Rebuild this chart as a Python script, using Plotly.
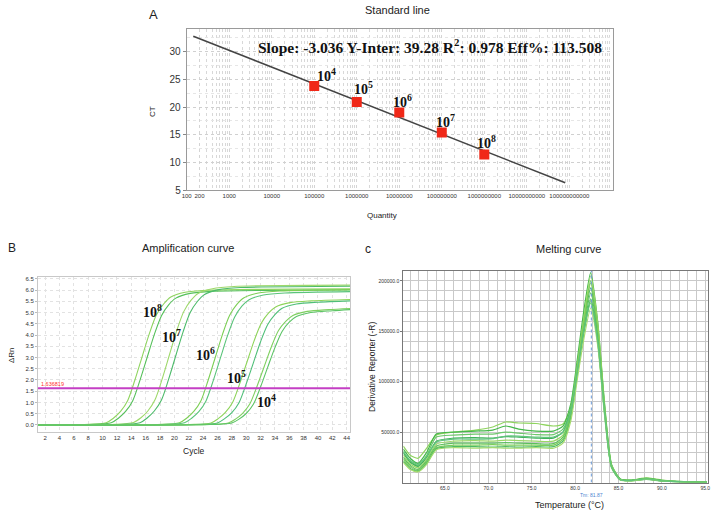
import math
import plotly.graph_objects as go

# ---------------- Panel A: standard line ----------------
std_quantity = [1e5, 1e6, 1e7, 1e8, 1e9]
std_ct = [23.8, 20.9, 19.0, 15.4, 11.4]
std_labels = ["10<sup>4</sup>", "10<sup>5</sup>", "10<sup>6</sup>", "10<sup>7</sup>", "10<sup>8</sup>"]
fit_quantity = [143, 8e10]
fit_ct = [32.8, 6.3]
qty_tickvals = [100, 200, 1e3, 1e4, 1e5, 1e6, 1e7, 1e8, 1e9, 1e10, 1e11]
qty_ticktext = ["100", "200", "1000", "10000", "100000", "1000000", "10000000",
                "100000000", "1000000000", "10000000000", "100000000000"]
ct_ticks = [5, 10, 15, 20, 25, 30]
stats_text = "Slope: -3.036 Y-Inter: 39.28 R<sup>2</sup>: 0.978 Eff%: 113.508"

# ---------------- Panel B: amplification curves ----------------
amp_x = [
    [1, 7.5, 10.5, 11.5, 12.5, 13.5, 14.5, 15.5, 16.5, 17.5, 18.5, 19.5, 21.5, 24.5, 44.5],
    [1, 8.2, 11.2, 12.2, 13.2, 14.2, 15.2, 16.2, 17.2, 18.2, 19.2, 20.2, 22.2, 25.2, 44.5],
    [1, 11.3, 14.3, 15.3, 16.3, 17.3, 18.3, 19.3, 20.3, 21.3, 22.3, 23.3, 25.3, 28.3, 44.5],
    [1, 12.2, 15.2, 16.2, 17.2, 18.2, 19.2, 20.2, 21.2, 22.2, 23.2, 24.2, 26.2, 29.2, 44.5],
    [1, 17.7, 20.7, 21.7, 22.7, 23.7, 24.7, 25.7, 26.7, 27.7, 28.7, 29.7, 31.7, 34.7, 44.5],
    [1, 18.4, 21.4, 22.4, 23.4, 24.4, 25.4, 26.4, 27.4, 28.4, 29.4, 30.4, 32.4, 35.4, 44.5],
    [1, 22.1, 25.1, 26.1, 27.1, 28.1, 29.1, 30.1, 31.1, 32.1, 33.1, 34.1, 36.1, 39.1, 44.5],
    [1, 23.0, 26.0, 27.0, 28.0, 29.0, 30.0, 31.0, 32.0, 33.0, 34.0, 35.0, 37.0, 40.0, 44.5],
    [1, 24.5, 27.5, 28.5, 29.5, 30.5, 31.5, 32.5, 33.5, 34.5, 35.5, 36.5, 38.5, 41.5, 44.5],
    [1, 25.0, 28.0, 29.0, 30.0, 31.0, 32.0, 33.0, 34.0, 35.0, 36.0, 37.0, 39.0, 42.0, 44.5],
]
amp_y = [
    [0, 0.02, 0.10, 0.30, 0.60, 1.09, 2.00, 3.03, 4.05, 4.90, 5.38, 5.69, 5.90, 5.99, 6.05],
    [0, 0.02, 0.10, 0.30, 0.60, 1.08, 1.98, 3.00, 4.02, 4.86, 5.34, 5.64, 5.85, 5.94, 6.00],
    [0, 0.02, 0.11, 0.31, 0.62, 1.12, 2.05, 3.11, 4.17, 5.04, 5.54, 5.85, 6.06, 6.16, 6.22],
    [0, 0.02, 0.10, 0.31, 0.62, 1.11, 2.04, 3.09, 4.13, 5.00, 5.49, 5.80, 6.02, 6.11, 6.17],
    [0, 0.02, 0.10, 0.30, 0.60, 1.08, 1.99, 3.01, 4.03, 4.88, 5.36, 5.66, 5.87, 5.96, 6.02],
    [0, 0.02, 0.10, 0.30, 0.59, 1.07, 1.96, 2.97, 3.97, 4.80, 5.28, 5.57, 5.78, 5.87, 5.93],
    [0, 0.02, 0.09, 0.28, 0.56, 1.00, 1.84, 2.79, 3.74, 4.52, 4.97, 5.25, 5.44, 5.52, 5.58],
    [0, 0.02, 0.09, 0.28, 0.55, 0.99, 1.82, 2.76, 3.70, 4.47, 4.91, 5.19, 5.38, 5.46, 5.52],
    [0, 0.02, 0.09, 0.26, 0.52, 0.93, 1.71, 2.59, 3.47, 4.20, 4.61, 4.87, 5.05, 5.13, 5.18],
    [0, 0.02, 0.09, 0.26, 0.51, 0.92, 1.69, 2.57, 3.44, 4.16, 4.57, 4.82, 5.00, 5.08, 5.13],
]
amp_colors = ["#8fd45f", "#55c05a", "#9ed86a", "#4dbb6a", "#7ccf55", "#5ac47a",
              "#8ed45a", "#4fbf78", "#7fd060", "#5cc466"]
amp_labels = ["10<sup>8</sup>", "10<sup>7</sup>", "10<sup>6</sup>", "10<sup>5</sup>", "10<sup>4</sup>"]
amp_label_x = [17.0, 19.55, 24.4, 28.6, 32.8]
amp_label_y = [5.07, 3.96, 3.16, 2.13, 1.07]
threshold = 1.636819
cycle_ticks = list(range(2, 45, 2))
rn_ticks = [0.0, 0.5, 1.0, 1.5, 2.0, 2.5, 3.0, 3.5, 4.0, 4.5, 5.0, 5.5, 6.0, 6.5]

# ---------------- Panel C: melting curves ----------------
melt_t = [60.2, 61.0, 61.9, 62.9, 64.0, 66.0, 68.5, 70.5, 72.0, 73.5, 75.5, 77.5, 78.6,
          79.5, 80.3, 81.0, 81.8, 82.6, 83.4, 84.2, 85.2, 86.5, 88.2, 90.0, 92.5, 95.2]
melt_y = [
    [36000, 27000, 24000, 34000, 47000, 50000, 52000, 55000, 60000, 59000, 58500, 56000, 58000,
     75000, 115000, 150000, 180000, 140000, 70000, 17000, 3500, 2500, 4500, 2500, 900, 300],
    [33000, 24000, 19000, 30000, 48000, 50000, 51000, 52000, 56000, 53000, 51000, 51000, 56000,
     78000, 125000, 170000, 208000, 160000, 78000, 18000, 3500, 2300, 4000, 2200, 800, 300],
    [30000, 21000, 17000, 27000, 45000, 47000, 48000, 48000, 50000, 49000, 47500, 47500, 53000,
     75000, 120000, 163000, 200000, 155000, 75000, 17000, 3200, 2200, 4200, 2000, 700, 300],
    [29000, 20000, 16000, 25000, 41000, 44000, 44500, 44000, 45500, 45000, 44000, 44000, 50000,
     72000, 118000, 158000, 193000, 150000, 73000, 16000, 3000, 2000, 3800, 1800, 600, 200],
    [27000, 18500, 14500, 23000, 38000, 41000, 41500, 41000, 42000, 41500, 41000, 41000, 47000,
     70000, 118000, 162000, 205000, 158000, 76000, 17000, 3000, 2000, 3500, 1700, 600, 200],
    [25000, 17000, 13000, 21500, 36000, 39000, 39000, 39000, 39500, 39000, 38500, 38500, 45000,
     68000, 113000, 152000, 188000, 146000, 71000, 15500, 2800, 1900, 3300, 1600, 500, 200],
    [23000, 15500, 12000, 20000, 34500, 37000, 37000, 37500, 37000, 37000, 37000, 37000, 43000,
     67000, 115000, 158000, 198000, 152000, 74000, 16000, 2900, 1900, 3600, 1600, 500, 200],
    [21000, 14000, 11000, 19000, 33500, 35500, 35500, 35000, 35500, 35000, 35500, 35500, 41000,
     64000, 110000, 148000, 182000, 142000, 69000, 15000, 2700, 1800, 3000, 1500, 500, 200],
    [20000, 13000, 10500, 18000, 32500, 34500, 34000, 34500, 34000, 34000, 34500, 34000, 39000,
     61000, 105000, 142000, 173000, 136000, 66000, 14500, 2600, 1700, 3200, 1500, 500, 200],
    [31000, 22000, 18000, 26000, 40000, 43000, 43000, 43500, 46000, 46000, 45000, 45000, 50000,
     70000, 112000, 150000, 178000, 140000, 68000, 15000, 2800, 1900, 3600, 1700, 600, 200],
]
melt_colors = ["#8fd45f", "#45b84a", "#6cc86a", "#3fb25a", "#9bd866", "#5cc05c",
               "#7acd58", "#4dbb66", "#a6db6e", "#60c47c"]
temp_ticks = [65, 70, 75, 80, 85, 90, 95]
deriv_ticks = [50000, 100000, 150000, 200000]
tm_value = 81.87

W, H = 718, 511
def px(x): return x / W
def py(y): return 1 - y / H

fig = go.Figure()

# Panel A traces
fig.add_trace(go.Scatter(x=fit_quantity, y=fit_ct, mode="lines",
                         line=dict(color="#444444", width=1.5), xaxis="x", yaxis="y"))
fig.add_trace(go.Scatter(x=std_quantity, y=std_ct, mode="markers",
                         marker=dict(symbol="square", size=10, color="#f02818"),
                         xaxis="x", yaxis="y"))

# Panel B traces
for xs, ys, c in zip(amp_x, amp_y, amp_colors):
    fig.add_trace(go.Scatter(x=xs, y=ys, mode="lines",
                             line=dict(color=c, width=1.1, shape="spline", smoothing=0.8),
                             xaxis="x2", yaxis="y2"))
fig.add_trace(go.Scatter(x=[1, 44.46], y=[threshold, threshold], mode="lines",
                         line=dict(color="#c43fc4", width=2), xaxis="x2", yaxis="y2"))

# Panel C traces
for ys, c in zip(melt_y, melt_colors):
    fig.add_trace(go.Scatter(x=melt_t, y=ys, mode="lines",
                             line=dict(color=c, width=1.2, shape="spline", smoothing=0.6),
                             xaxis="x3", yaxis="y3"))
fig.add_trace(go.Scatter(x=[tm_value, tm_value], y=[0, 210000], mode="lines",
                         line=dict(color="#6a9ad8", width=1, dash="dot"), xaxis="x3", yaxis="y3"))

C = dict(xanchor="center", yanchor="middle", showarrow=False)
ann = []
for q, ct, lab, dx, dy in zip(std_quantity, std_ct, std_labels, [12, 7, 3, 4, 2], [11, 14, 12, 11, 13]):
    ann.append(dict(x=math.log10(q), y=ct, xref="x", yref="y", text="<b>" + lab + "</b>",
                    xshift=dx, yshift=dy, **C,
                    font=dict(family="Liberation Serif", size=14, color="#111")))
ann.append(dict(x=px(430), y=py(46), xref="paper", yref="paper", text="<b>" + stats_text + "</b>", **C,
                font=dict(family="Liberation Serif", size=15.5, color="#111")))
for x, y, lab in zip(amp_label_x, amp_label_y, amp_labels):
    ann.append(dict(x=x, y=y, xref="x2", yref="y2", text="<b>" + lab + "</b>", **C,
                    font=dict(family="Liberation Serif", size=14, color="#111")))
ann.append(dict(x=1.1, y=threshold, xref="x2", yref="y2", text=f"{threshold:.6f}", showarrow=False,
                xanchor="left", yanchor="bottom", yshift=-1,
                font=dict(family="Liberation Sans", size=5.5, color="#ff3030")))
ann.append(dict(x=tm_value, y=py(495), xref="x3", yref="paper", text=f"Tm: {tm_value}", **C,
                font=dict(family="Liberation Sans", size=5, color="#4a7fd0")))

texts = [
    ("A", 153, 14, 13, 0), ("Standard line", 398, 10, 11, 0), ("CT", 152, 112, 8, -90),
    ("Quantity", 382, 215, 8, 0), ("B", 12, 248, 12, 0), ("Amplification curve", 188, 248, 11, 0),
    ("ΔRn", 11, 355, 8, -90), ("Cycle", 194, 451, 8.5, 0), ("c", 368, 249, 12, 0),
    ("Melting curve", 568, 249, 11, 0), ("Derivative Reporter (-R)", 372, 367, 8.5, -90),
    ("Temperature (°C)", 569, 505, 9, 0),
]
for t, x, y, s, r in texts:
    ann.append(dict(x=px(x), y=py(y), xref="paper", yref="paper", text=t, textangle=r, **C,
                    font=dict(family="Liberation Sans", size=s, color="#222")))

fig.update_layout(
    width=W, height=H, margin=dict(l=0, r=0, t=0, b=0, autoexpand=False),
    paper_bgcolor="white", plot_bgcolor="white", showlegend=False,
    annotations=ann,
    xaxis=dict(domain=[px(186.7), px(612.7)], anchor="y", type="log", range=[2.0, 12.02],
               tickmode="array", tickvals=qty_tickvals, ticktext=qty_ticktext, tickangle=0,
               tickfont=dict(family="Liberation Sans", size=6, color="#333"),
               showgrid=True, gridcolor="#d4d4d4", griddash="dot", gridwidth=1,
               minor=dict(showgrid=True, gridcolor="#d8d8d8", griddash="dot", dtick="D1"),
               showline=True, linecolor="#9a9a9a", mirror=True, ticks="",
               zeroline=False, automargin=False),
    yaxis=dict(domain=[py(190), py(29)], anchor="x", range=[5, 34.1],
               tickmode="array", tickvals=ct_ticks,
               tickfont=dict(family="Liberation Sans", size=10, color="#333"),
               showgrid=True, gridcolor="#d0d0d0", griddash="dot",
               minor=dict(showgrid=True, gridcolor="#e6e6e6", griddash="dot", dtick=2.5),
               showline=True, linecolor="#9a9a9a", mirror=True, ticks="outside", ticklen=3, tickcolor="#888",
               zeroline=False, automargin=False),
    xaxis2=dict(domain=[px(38), px(350)], anchor="y2", range=[1, 44.46],
                tickmode="array", tickvals=cycle_ticks, tickangle=0,
                tickfont=dict(family="Liberation Sans", size=6, color="#333"),
                showgrid=True, gridcolor="#e2e2e2", griddash="dot",
                showline=True, linecolor="#c8c8c8", mirror=True, ticks="",
                zeroline=False, automargin=False),
    yaxis2=dict(domain=[py(431.7), py(277)], anchor="x2", range=[-0.3, 6.58],
                tickmode="array", tickvals=rn_ticks, tickformat=".1f",
                tickfont=dict(family="Liberation Sans", size=6, color="#333"),
                showgrid=True, gridcolor="#e2e2e2", griddash="dot",
                showline=True, linecolor="#c8c8c8", mirror=True, ticks="outside", ticklen=2, tickcolor="#bbb",
                zeroline=False, automargin=False),
    xaxis3=dict(domain=[px(403.3), px(708.3)], anchor="y3", range=[60.2, 95.35],
                tickmode="array", tickvals=temp_ticks, tickformat=".1f", tickangle=0,
                tickfont=dict(family="Liberation Sans", size=5, color="#333"),
                showgrid=True, gridcolor="#c9c9c9",
                minor=dict(showgrid=True, gridcolor="#c9c9c9", dtick=1, tick0=60),
                showline=True, linecolor="#777", mirror=True, ticks="",
                zeroline=False, automargin=False),
    yaxis3=dict(domain=[py(482.5), py(270.7)], anchor="x3", range=[0, 210000],
                tickmode="array", tickvals=deriv_ticks, tickformat=".1f",
                tickfont=dict(family="Liberation Sans", size=5, color="#333"),
                showgrid=True, gridcolor="#c9c9c9",
                minor=dict(showgrid=True, gridcolor="#c9c9c9", dtick=10000, tick0=0),
                showline=True, linecolor="#777", mirror=True, ticks="outside", ticklen=2, tickcolor="#777",
                zeroline=False, automargin=False),
)

fig.write_html("out.html", config={"displayModeBar": False},
               post_script="document.body.style.margin='0px';document.body.style.overflow='hidden';")
